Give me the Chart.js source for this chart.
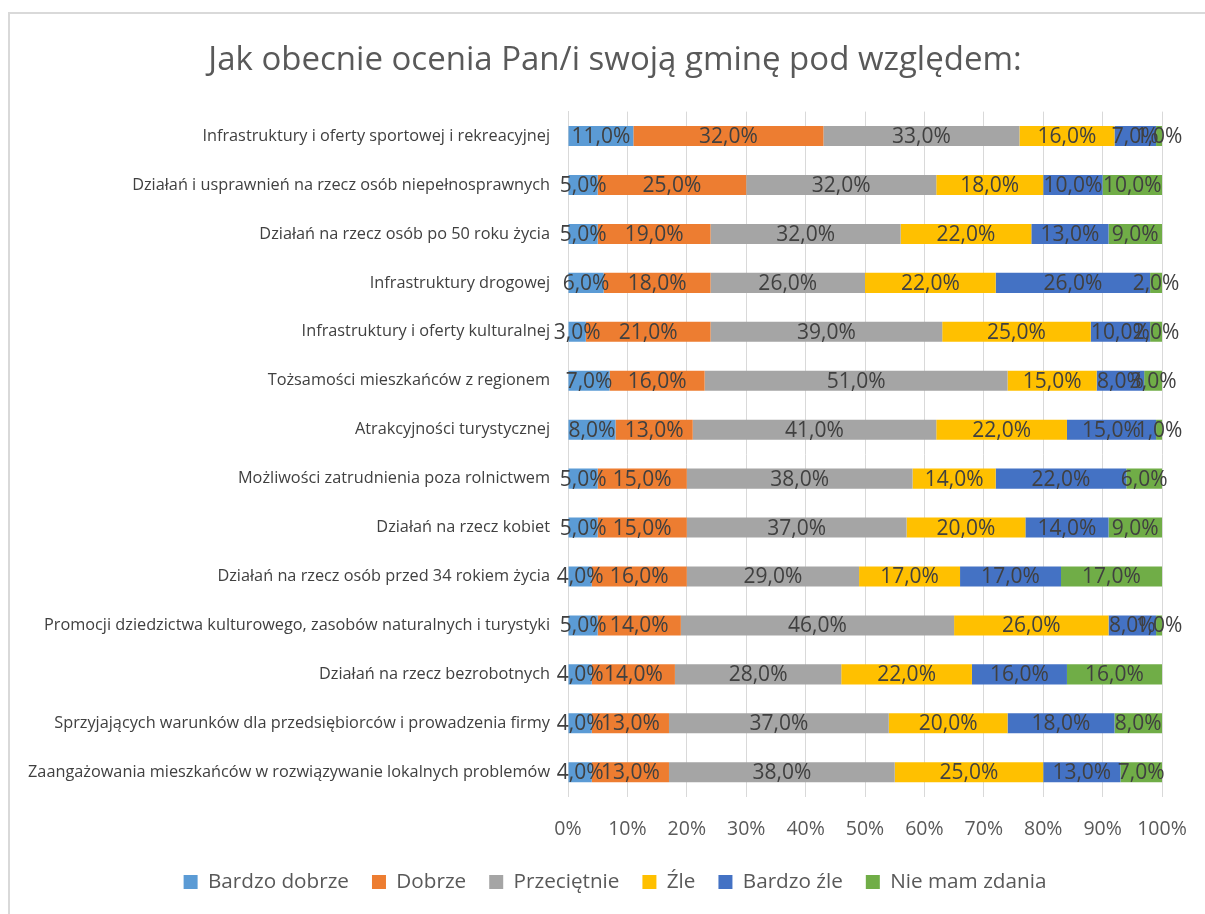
<!DOCTYPE html>
<html>
<head>
<meta charset="utf-8">
<script src="https://cdn.jsdelivr.net/npm/chart.js@4/dist/chart.umd.min.js"></script>
<style>
html,body{margin:0;padding:0;background:#fff;overflow:hidden;}
#wrap{width:1205px;height:914px;position:relative;}
</style>
</head>
<body>
<div id="wrap"><canvas id="c" width="1205" height="914"></canvas></div>
<script>
const categories = [
  "Infrastruktury i oferty sportowej i rekreacyjnej",
  "Działań i usprawnień na rzecz osób niepełnosprawnych",
  "Działań na rzecz osób po 50 roku życia",
  "Infrastruktury drogowej",
  "Infrastruktury i oferty kulturalnej",
  "Tożsamości mieszkańców z regionem",
  "Atrakcyjności turystycznej",
  "Możliwości zatrudnienia poza rolnictwem",
  "Działań na rzecz kobiet",
  "Działań na rzecz osób przed 34 rokiem życia",
  "Promocji dziedzictwa kulturowego, zasobów naturalnych i turystyki",
  "Działań na rzecz bezrobotnych",
  "Sprzyjających warunków dla przedsiębiorców i prowadzenia firmy",
  "Zaangażowania mieszkańców w rozwiązywanie lokalnych problemów"
];
const seriesNames = ["Bardzo dobrze","Dobrze","Przeciętnie","Źle","Bardzo źle","Nie mam zdania"];
const bardzoDobrze = [11,5,5,6,3,7,8,5,5,4,5,4,4,4];
const dobrze       = [32,25,19,18,21,16,13,15,15,16,14,14,13,13];
const przecietnie  = [33,32,32,26,39,51,41,38,37,29,46,28,37,38];
const zle          = [16,18,22,22,25,15,22,14,20,17,26,22,20,25];
const bardzoZle    = [7,10,13,26,10,8,15,22,14,17,8,16,18,13];
const nieMamZdania = [1,10,9,2,2,3,1,6,9,17,1,16,8,7];
const xTicks = ["0%","10%","20%","30%","40%","50%","60%","70%","80%","90%","100%"];
const colors = ["#5B9BD5","#ED7D31","#A5A5A5","#FFC000","#4472C4","#70AD47"];

const FONT = "'Open Sans', sans-serif";
const seriesData = [bardzoDobrze,dobrze,przecietnie,zle,bardzoZle,nieMamZdania];

const frame = {
  id:'frame',
  beforeDraw(chart){
    const ctx = chart.ctx;
    ctx.save();
    ctx.strokeStyle = '#d9d9d9';
    ctx.lineWidth = 2;
    ctx.beginPath();
    ctx.moveTo(9, 914);
    ctx.lineTo(9, 13);
    ctx.lineTo(1205, 13);
    ctx.stroke();
    ctx.restore();
  }
};

const valueLabels = {
  id:'valueLabels',
  afterDatasetsDraw(chart){
    const ctx = chart.ctx;
    ctx.save();
    ctx.font = "21px " + FONT;
    ctx.fillStyle = '#404040';
    ctx.textAlign = 'center';
    ctx.textBaseline = 'middle';
    chart.data.datasets.forEach((ds, di) => {
      const meta = chart.getDatasetMeta(di);
      meta.data.forEach((bar, i) => {
        const v = ds.data[i];
        const cx = (bar.x + bar.base) / 2;
        ctx.fillText(v.toFixed(1).replace('.', ',') + '%', cx, bar.y + 1);
      });
    });
    ctx.restore();
  }
};

new Chart(document.getElementById('c'), {
  type: 'bar',
  data: {
    labels: categories,
    datasets: seriesNames.map((n, k) => ({
      label: n,
      data: seriesData[k],
      backgroundColor: colors[k],
      borderWidth: 0,
      barPercentage: 0.82,
      categoryPercentage: 0.5
    }))
  },
  options: {
    indexAxis: 'y',
    responsive: false,
    animation: false,
    devicePixelRatio: 1,
    layout: { padding: { left: 66, right: 41, top: 0, bottom: 11.6 } },
    plugins: {
      title: {
        display: true,
        text: 'Jak obecnie ocenia Pan/i swoją gminę pod względem:',
        color: '#595959',
        font: { family: FONT, size: 33, weight: 'normal', lineHeight: 1.2 },
        padding: { top: 41, bottom: 31 }
      },
      legend: {
        position: 'bottom',
        labels: {
          color: '#595959',
          font: { family: FONT, size: 20.7, lineHeight: 1.2 },
          boxWidth: 14, boxHeight: 14,
          padding: 23
        }
      },
      tooltip: { enabled: false }
    },
    scales: {
      x: {
        stacked: true,
        min: 0, max: 100,
        grid: { color: '#d9d9d9', drawTicks: false, lineWidth: 1 },
        border: { display: false },
        ticks: {
          stepSize: 10,
          color: '#595959',
          font: { family: FONT, size: 19.5 },
          padding: 21,
          callback: (v, i) => xTicks[i]
        },
        afterFit: s => {
          s.height = 52;
          s.paddingLeft = 0;
          s.paddingRight = 43;
        }
      },
      y: {
        stacked: true,
        grid: { display: false, drawTicks: false },
        border: { display: true, color: '#d9d9d9', width: 1 },
        ticks: {
          color: '#404040',
          font: { family: FONT, size: 16.3 },
          padding: 18,
          autoSkip: false
        },
        afterFit: s => {
          s.width = 502;
          s._computeLabelArea = () => undefined;
        }
      }
    }
  },
  plugins: [frame, valueLabels]
});
</script>
</body>
</html>
